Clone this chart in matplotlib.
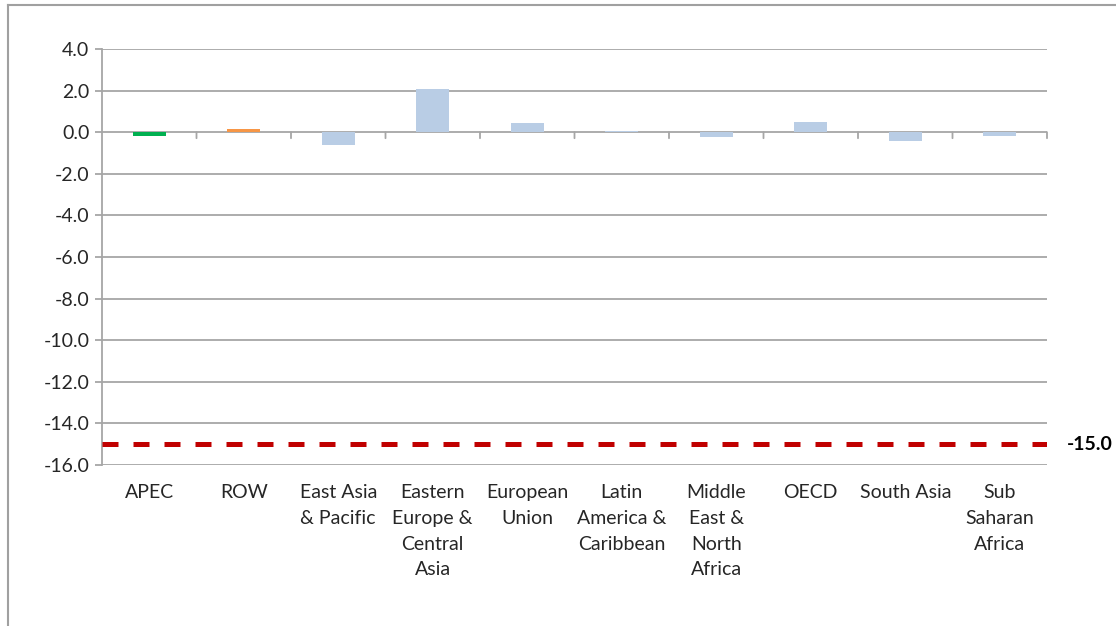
import matplotlib
matplotlib.use("Agg")
import matplotlib.pyplot as plt
from matplotlib.lines import Line2D
import matplotlib.transforms as mtransforms
import numpy as np

categories = ["APEC", "ROW", "East Asia\n& Pacific", "Eastern\nEurope &\nCentral\nAsia",
              "European\nUnion", "Latin\nAmerica &\nCaribbean", "Middle\nEast &\nNorth\nAfrica",
              "OECD", "South Asia", "Sub\nSaharan\nAfrica"]
values = [-0.18, 0.15, -0.62, 2.09, 0.45, 0.07, -0.24, 0.48, -0.43, -0.19]
bar_colors = ["#00B050", "#F79646"] + ["#B9CDE5"] * 8
threshold = -15.0
yticks = [4, 2, 0, -2, -4, -6, -8, -10, -12, -14, -16]

plt.rcParams['font.family'] = ['Lato', 'DejaVu Sans']

W, H = 1116, 626
fig = plt.figure(figsize=(W / 100, H / 100), dpi=100)
ax = fig.add_axes([102 / W, 1 - 465 / H, (1047 - 102) / W, (465 - 49) / H])

grid_c = "#A6A6A6"
text_c = "#262626"
x = np.arange(len(categories))
ax.bar(x, values, width=0.35, color=bar_colors, linewidth=0, zorder=3)

ax.set_xlim(-0.5, len(categories) - 0.5)
ax.set_ylim(min(yticks), max(yticks))
ax.set_yticks(yticks)
ax.set_yticklabels([f"{v:.1f}" for v in yticks], fontsize=14, color=text_c)
for v in yticks:
    ax.axhline(v, color=grid_c, lw=1.3, zorder=1)

for s in ["top", "right", "bottom"]:
    ax.spines[s].set_visible(False)
ax.spines["left"].set_color(grid_c)
ax.spines["left"].set_linewidth(1.3)
ax.tick_params(axis="y", length=5, color=grid_c, width=1.3, pad=4)
ax.tick_params(axis="x", length=0, labelbottom=False)

# category boundary ticks below the zero line
bounds = np.arange(len(categories) + 1) - 0.5
for b in bounds[1:]:
    ax.annotate("", xy=(b, 0), xycoords="data", xytext=(0, -6), textcoords="offset pixels",
                arrowprops=dict(arrowstyle="-", color=grid_c, lw=1.3, shrinkA=0, shrinkB=0))

# category labels
blend = mtransforms.blended_transform_factory(ax.transData, ax.transAxes)
for xi, lab in zip(x, categories):
    ax.annotate(lab, xy=(xi, 0), xycoords=blend, xytext=(0, -14), textcoords="offset points",
                ha="center", va="top", fontsize=14, color=text_c, linespacing=1.62)

# threshold line
ax.axhline(threshold, color="#C00000", lw=3.6, dashes=(3.2, 3.0), zorder=5)
blend2 = mtransforms.blended_transform_factory(ax.transAxes, ax.transData)
ax.text(1.021, threshold, f"{threshold:.1f}", transform=blend2, ha="left", va="center",
        fontsize=14, fontweight="bold", color="black")

# chart border
fig.add_artist(Line2D([8 / W, 1], [1 - 5 / H, 1 - 5 / H], transform=fig.transFigure,
                      color="#A0A0A0", lw=1.5))
fig.add_artist(Line2D([8 / W, 8 / W], [0, 1 - 5 / H], transform=fig.transFigure,
                      color="#A0A0A0", lw=1.5))

fig.savefig("out.png", dpi=100)
